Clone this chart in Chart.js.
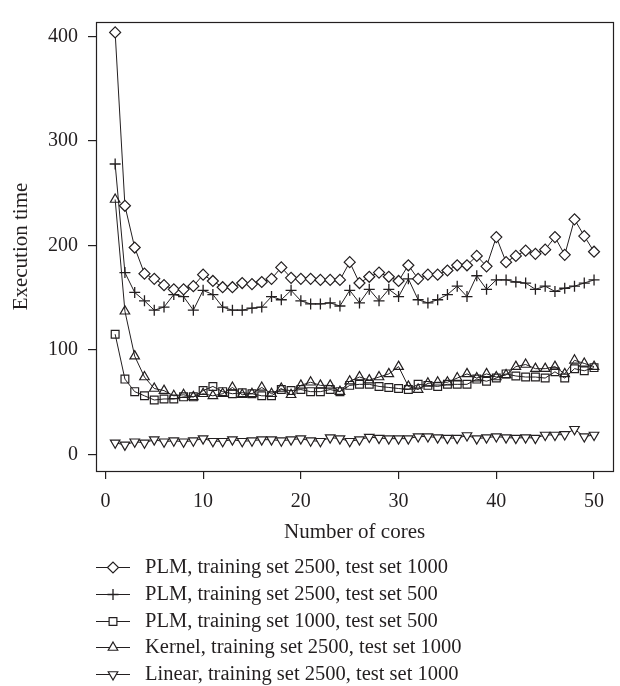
<!DOCTYPE html>
<html>
<head>
<meta charset="utf-8">
<script src="https://cdn.jsdelivr.net/npm/chart.js@4/dist/chart.umd.min.js"></script>
<style>
  html, body { margin: 0; padding: 0; background: #fff; }
  canvas { display: block; }
</style>
</head>
<body>
<canvas id="coresChart" width="620" height="686"></canvas>
<script>
// 코어 수별 실행 시간
const cores = [1, 2, 3, 4, 5, 6, 7, 8, 9, 10, 11, 12, 13, 14, 15, 16, 17, 18, 19, 20,
    21, 22, 23, 24, 25, 26, 27, 28, 29, 30, 31, 32, 33, 34, 35, 36, 37, 38, 39, 40,
    41, 42, 43, 44, 45, 46, 47, 48, 49, 50];

const plm2500Test1000 = [404, 238, 198, 173, 168, 162, 158, 158, 161, 172, 166, 160, 160, 164, 163, 165, 168, 179, 169, 168,
    168, 167, 167, 167, 184, 164, 170, 174, 170, 166, 181, 168, 172, 172, 176, 181, 181, 190, 180, 208,
    184, 190, 195, 192, 196, 208, 191, 225, 209, 194];
const plm2500Test500 = [278, 174, 155, 147, 138, 141, 153, 151, 138, 157, 153, 141, 138, 138, 140, 141, 151, 148, 157, 147,
    144, 144, 145, 142, 157, 145, 158, 147, 158, 151, 168, 148, 145, 148, 153, 161, 151, 171, 158, 167,
    167, 165, 164, 158, 161, 156, 159, 161, 164, 167];
const plm1000Test500 = [115, 72, 60, 56, 52, 53, 53, 55, 55, 61, 65, 60, 58, 59, 58, 56, 56, 62, 61, 62,
    60, 60, 62, 60, 66, 67, 67, 65, 64, 63, 62, 67, 66, 65, 67, 67, 67, 72, 70, 73,
    77, 75, 74, 74, 73, 79, 73, 82, 80, 83];
const kernel2500Test1000 = [244, 137, 94, 74, 63, 61, 56, 57, 55, 58, 56, 58, 64, 57, 58, 64, 58, 63, 57, 66,
    69, 66, 66, 60, 70, 74, 71, 74, 77, 84, 65, 62, 68, 69, 69, 73, 77, 73, 77, 74,
    76, 84, 86, 82, 82, 84, 77, 90, 87, 84];
const linear2500Test1000 = [11, 9, 12, 11, 14, 12, 13, 12, 13, 15, 12.5, 12.5, 14, 12.5, 13, 14, 14, 13, 14, 15,
    13, 12.5, 16, 15, 12.5, 14, 16.5, 15.5, 15, 15, 15, 17, 17, 16, 15.5, 15.5, 18, 15, 16, 17,
    16, 15.5, 16, 15.5, 18.5, 18.5, 19, 24, 17, 18.5];

const seriesLabels = [
    'PLM, training set 2500, test set 1000',
    'PLM, training set 2500, test set 500',
    'PLM, training set 1000, test set 500',
    'Kernel, training set 2500, test set 1000',
    'Linear, training set 2500, test set 1000'
];

const xTicks = [0, 10, 20, 30, 40, 50];
const yTicks = [0, 100, 200, 300, 400];

const INK = '#231f20';
const FONT = "'Liberation Serif', 'DejaVu Serif', serif";

function toPoints(values) {
    return values.map((v, i) => ({ x: cores[i], y: v }));
}

function makeDataset(label, values, style, extra) {
    return Object.assign({
        label: label,
        data: toPoints(values),
        borderColor: INK,
        borderWidth: 1,
        pointStyle: style,
        pointRadius: 5.5,
        pointHoverRadius: 5.5,
        pointBorderColor: INK,
        pointBorderWidth: 1.2,
        pointBackgroundColor: '#fff',
        tension: 0,
        fill: false
    }, extra || {});
}

// 전체 테두리
const framePlugin = {
    id: 'frame',
    afterDraw(chart) {
        const { ctx, chartArea: a } = chart;
        ctx.save();
        ctx.strokeStyle = INK;
        ctx.lineWidth = 1.2;
        ctx.strokeRect(Math.round(a.left) + 0.5, Math.round(a.top) + 0.5,
            Math.round(a.right - a.left), Math.round(a.bottom - a.top));
        ctx.restore();
    }
};

// 아래쪽 범례 (세로 목록)
const legendPlugin = {
    id: 'stackedLegend',
    afterDraw(chart) {
        const ctx = chart.ctx;
        const top = 567;
        const step = 26.8;
        ctx.save();
        chart.data.datasets.forEach((ds, i) => {
            const y = Math.round(top + i * step) + 0.5;
            ctx.strokeStyle = INK;
            ctx.lineWidth = 1;
            ctx.beginPath();
            ctx.moveTo(96, y);
            ctx.lineTo(130, y);
            ctx.stroke();
            ctx.fillStyle = '#fff';
            ctx.lineWidth = ds.pointBorderWidth;
            Chart.helpers.drawPoint(ctx, {
                pointStyle: ds.pointStyle,
                rotation: ds.pointRotation || 0,
                radius: ds.pointRadius,
                borderWidth: ds.pointBorderWidth
            }, 113, y);
            ctx.fillStyle = INK;
            ctx.font = '20.5px ' + FONT;
            ctx.textAlign = 'left';
            ctx.textBaseline = 'middle';
            ctx.fillText(ds.label, 145, y);
        });
        ctx.restore();
    }
};

const ctx = document.getElementById('coresChart').getContext('2d');
new Chart(ctx, {
    type: 'line',
    data: {
        datasets: [
            makeDataset(seriesLabels[0], plm2500Test1000, 'rectRot'),
            makeDataset(seriesLabels[1], plm2500Test500, 'cross', { pointBorderWidth: 1.3 }),
            makeDataset(seriesLabels[2], plm1000Test500, 'rect', { pointBackgroundColor: 'rgba(255,255,255,0)' }),
            makeDataset(seriesLabels[3], kernel2500Test1000, 'triangle', { pointBackgroundColor: 'rgba(255,255,255,0)' }),
            makeDataset(seriesLabels[4], linear2500Test1000, 'triangle', { pointRotation: 180 })
        ]
    },
    options: {
        responsive: false,
        animation: false,
        layout: { padding: { left: 0, top: 6, right: 6, bottom: 0 } },
        plugins: {
            legend: { display: false },
            tooltip: { enabled: false }
        },
        scales: {
            x: {
                type: 'linear',
                min: -0.96,
                max: 51.96,
                afterFit: (scale) => { scale.height = 215; },
                afterBuildTicks: (scale) => { scale.ticks = xTicks.map(v => ({ value: v })); },
                border: { display: false },
                grid: {
                    drawOnChartArea: false,
                    drawTicks: true,
                    tickLength: 8,
                    color: INK,
                    lineWidth: 1.2
                },
                ticks: {
                    color: INK,
                    padding: 11,
                    maxRotation: 0,
                    autoSkip: false,
                    font: { family: FONT, size: 20 }
                },
                title: {
                    display: true,
                    text: 'Number of cores',
                    color: INK,
                    font: { family: FONT, size: 21 },
                    padding: { top: 0, bottom: 141 }
                }
            },
            y: {
                type: 'linear',
                min: -16,
                max: 414,
                afterFit: (scale) => { scale.width = 96; },
                afterBuildTicks: (scale) => { scale.ticks = yTicks.map(v => ({ value: v })); },
                border: { display: false },
                grid: {
                    drawOnChartArea: false,
                    drawTicks: true,
                    tickLength: 8,
                    color: INK,
                    lineWidth: 1.2
                },
                ticks: {
                    color: INK,
                    padding: 10,
                    font: { family: FONT, size: 20 }
                },
                title: {
                    display: true,
                    text: 'Execution time',
                    color: INK,
                    font: { family: FONT, size: 21 },
                    padding: { top: 9, bottom: 0 }
                }
            }
        }
    },
    plugins: [framePlugin, legendPlugin]
});
</script>
</body>
</html>
